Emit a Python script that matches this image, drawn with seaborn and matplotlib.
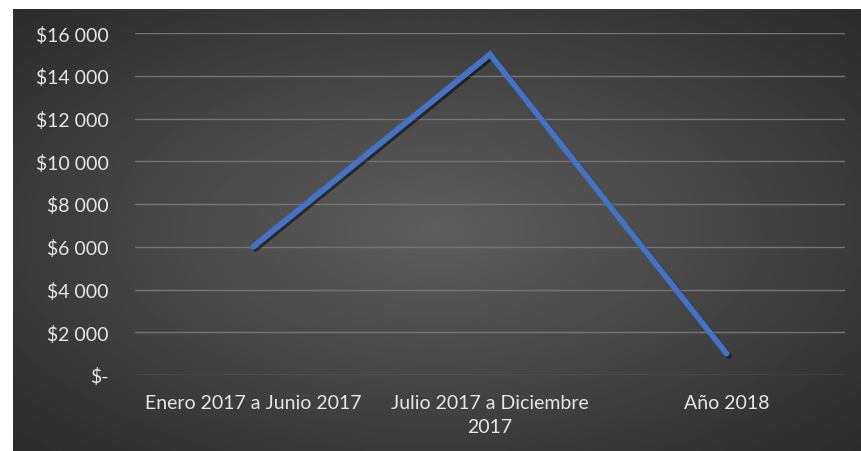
import numpy as np
import pandas as pd
import seaborn as sns
import matplotlib.pyplot as plt
import matplotlib.patheffects as pe

# Data
periodos = ['Enero 2017 a Junio 2017', 'Julio 2017 a Diciembre\n2017', 'Año 2018']
montos = [6000, 15000, 1000]
y_ticks = [0, 2000, 4000, 6000, 8000, 10000, 12000, 14000, 16000]
y_labels = ['$-', '$2 000', '$4 000', '$6 000', '$8 000', '$10 000', '$12 000', '$14 000', '$16 000']

data = pd.DataFrame({'Periodo': periodos, 'Monto': montos})

sns.set_theme(style='dark')
plt.rcParams['font.family'] = ['Lato', 'DejaVu Sans']

W, H = 861, 452
fig = plt.figure(figsize=(W / 100, H / 100), dpi=100)
fig.patch.set_facecolor('white')

# dark gradient background (Excel style)
bg = fig.add_axes([13 / W, 0, 1 - 13 / W, 1 - 10 / H])
yy, xx = np.mgrid[-1:1:200j, -1:1:400j]
r = np.sqrt(xx ** 2 + yy ** 2) / np.sqrt(2)
bg.imshow(0.37 - 0.2 * r, cmap='gray', vmin=0, vmax=1, aspect='auto', extent=[0, 1, 0, 1])
bg.axis('off')

ax = fig.add_axes([135 / W, (H - 376) / H, 710 / W, (376 - 34) / H])
ax.patch.set_alpha(0)
sns.lineplot(data=data, x='Periodo', y='Monto', ax=ax, color='#4472C4', linewidth=4.2,
             solid_capstyle='round', solid_joinstyle='miter', sort=False,
             path_effects=[pe.SimpleLineShadow(offset=(1.5, -1.5), shadow_color='black', alpha=0.5),
                           pe.Normal()])

ax.set_xlim(-0.5, 2.5)
ax.set_ylim(0, 16000)
ax.set_yticks(y_ticks)
ax.set_yticklabels(y_labels)
ax.grid(axis='y', color='#747474', linewidth=1)
ax.grid(axis='x', visible=False)
for s in ax.spines.values():
    s.set_visible(False)
ax.set_xlabel('')
ax.set_ylabel('')
ax.tick_params(axis='both', colors='#e0e0e0', labelsize=14, length=0)
ax.tick_params(axis='y', pad=19)
ax.tick_params(axis='x', pad=14)
for lbl in ax.get_xticklabels() + ax.get_yticklabels():
    lbl.set_color('#e6e6e6')
for lbl in ax.get_xticklabels():
    lbl.set_linespacing(1.45)

fig.savefig('out.png', dpi=100)
